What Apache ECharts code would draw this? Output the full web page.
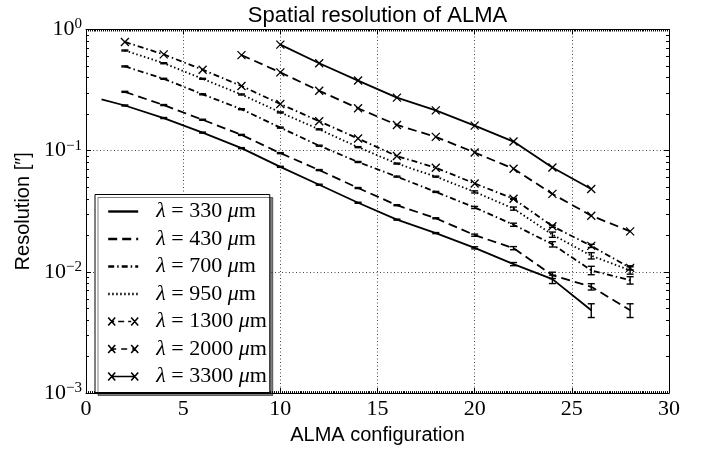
<!DOCTYPE html>
<html><head><meta charset="utf-8">
<script src="https://cdn.jsdelivr.net/npm/echarts@6/dist/echarts.min.js"></script>
<style>html,body{margin:0;padding:0;background:#fff}#c{width:706px;height:450px}</style>
</head><body><div id="c"></div>
<script>
// ---- data ----
const wavelengths = [330, 430, 700, 950, 1300, 2000, 3300];
const xTicks = [0, 5, 10, 15, 20, 25, 30];
const yTickExponents = [0, -1, -2, -3];

const configs330 = [0.8, 2, 4, 6, 8, 10, 12, 14, 16, 18, 20, 22, 24, 26];
const res330 = [0.265, 0.236, 0.186, 0.141, 0.105, 0.0736, 0.0524, 0.0372, 0.0270, 0.0209, 0.0158, 0.0116, 0.00871, 0.00483];
const err330 = [0, 1, 1, 1, 1, 1, 1, 1, 1, 1, 2, 3, 8, 13];

const configs430 = [2, 4, 6, 8, 10, 12, 14, 16, 18, 20, 22, 24, 26, 28];
const res430 = [0.306, 0.238, 0.180, 0.135, 0.0955, 0.0692, 0.0492, 0.0355, 0.0277, 0.0201, 0.0157, 0.00938, 0.00754, 0.00483];
const err430 = [1, 1, 1, 1, 1, 1, 1, 1, 1, 2, 3, 6, 6, 13];

const configs700 = [2, 4, 6, 8, 10, 12, 14, 16, 18, 20, 22, 24, 26, 28];
const res700 = [0.496, 0.392, 0.292, 0.220, 0.155, 0.110, 0.0807, 0.0611, 0.0457, 0.0340, 0.0245, 0.0169, 0.0103, 0.00853];
const err700 = [1, 1, 1, 1, 1, 1, 1, 1, 1, 2, 3, 5, 8, 7];

const configs950 = [2, 4, 6, 8, 10, 12, 14, 16, 18, 20, 22, 24, 26, 28];
const res950 = [0.671, 0.527, 0.392, 0.291, 0.207, 0.150, 0.107, 0.0783, 0.0611, 0.0457, 0.0333, 0.0203, 0.0136, 0.0103];
const err950 = [1, 1, 1, 1, 1, 1, 1, 1, 1, 2, 3, 5, 6, 7];

const configs1300 = [2, 4, 6, 8, 10, 12, 14, 16, 18, 20, 22, 24, 26, 28];
const res1300 = [0.789, 0.623, 0.466, 0.342, 0.243, 0.175, 0.126, 0.0903, 0.0723, 0.0537, 0.0401, 0.0238, 0.0164, 0.0108];
const err1300 = [0, 0, 0, 0, 0, 0, 0, 0, 0, 0, 1, 2, 3, 4];

const configs2000 = [8, 10, 12, 14, 16, 18, 20, 22, 24, 26, 28];
const res2000 = [0.615, 0.443, 0.312, 0.224, 0.163, 0.130, 0.0966, 0.0710, 0.0440, 0.0291, 0.0216];

const configs3300 = [10, 12, 14, 16, 18, 20, 22, 24, 26];
const res3300 = [0.750, 0.527, 0.379, 0.274, 0.215, 0.161, 0.119, 0.0727, 0.0483];

// ---- styles ----
const XMARK = 'path://M0,0L10,10M10,0L0,10';
const XLEG = 'M0,0L7,8M7,0L0,8M23,0L30,8M30,0L23,8';
const lineSpecs = [
  {x: configs330, y: res330, e: err330, dash: 'solid', marker: false},
  {x: configs430, y: res430, e: err430, dash: [9, 5], marker: false},
  {x: configs700, y: res700, e: err700, dash: [6, 3, 1.5, 3], marker: false},
  {x: configs950, y: res950, e: err950, dash: [1.5, 2.5], marker: false},
  {x: configs1300, y: res1300, e: err1300, dash: [6, 3, 1.5, 3], marker: true, leg: 'path://' + XLEG + 'M4,4L6,4M10,4L16,4M20,4L23,4'},
  {x: configs2000, y: res2000, e: null, dash: [9, 5], marker: true, leg: 'path://' + XLEG + 'M4,4L8,4M13,4L19,4M24,4L26,4'},
  {x: configs3300, y: res3300, e: null, dash: 'solid', marker: true, leg: 'path://' + XLEG + 'M4,4L26,4'}
];
const names = wavelengths.map(w => 'λ = ' + w + ' μm');

const series = [];
const legendData = [];
lineSpecs.forEach((s, i) => {
  series.push({
    name: names[i], type: 'line',
    data: s.x.map((x, j) => [x, s.y[j]]),
    showSymbol: s.marker, symbol: s.marker ? XMARK : 'none', symbolSize: 8,
    itemStyle: {color: '#000', borderColor: '#000', borderWidth: 1.3},
    lineStyle: {color: '#000', width: 1.8, type: s.dash},
    animation: false, z: 3
  });
  if (s.marker) {
    legendData.push({name: names[i], icon: s.leg,
      itemStyle: {color: 'rgba(0,0,0,0)', borderColor: '#000', borderWidth: 1.6}});
  } else {
    legendData.push({name: names[i], itemStyle: {opacity: 0},
      lineStyle: {width: 2.4, type: s.dash, color: '#000'}});
  }
  if (s.e) {
    series.push({
      name: '_err' + i, type: 'custom',
      data: s.x.map((x, j) => [x, s.y[j] * (1 - s.e[j] / 100), s.y[j] * (1 + s.e[j] / 100), s.e[j]]).filter(d => d[3] > 0),
      encode: {x: 0, y: [1, 2]},
      renderItem: function (params, api) {
        const x = api.value(0);
        const p1 = api.coord([x, api.value(1)]);
        const p2 = api.coord([x, api.value(2)]);
        const w = 3.5;
        const st = {stroke: '#000', lineWidth: 1.4};
        return {type: 'group', children: [
          {type: 'line', shape: {x1: p1[0], y1: p1[1], x2: p2[0], y2: p2[1]}, style: st},
          {type: 'line', shape: {x1: p1[0] - w, y1: p1[1], x2: p1[0] + w, y2: p1[1]}, style: st},
          {type: 'line', shape: {x1: p2[0] - w, y1: p2[1], x2: p2[0] + w, y2: p2[1]}, style: st}
        ]};
      },
      animation: false, z: 4
    });
  }
});

const serif = 'Liberation Serif';
const sans = 'Liberation Sans';
const tickStyle = {show: true, inside: true, length: 5, lineStyle: {color: '#000', width: 1}};
const gridLine = {show: true, lineStyle: {color: '#444', width: 1, type: [1, 2.5]}};

const chart = echarts.init(document.getElementById('c'), null, {renderer: 'canvas'});
chart.setOption({
  backgroundColor: '#fff',
  animation: false,
  title: {
    text: 'Spatial resolution of ALMA', left: 377.5, textAlign: 'center', top: 5, padding: 0,
    textStyle: {fontFamily: sans, fontSize: 22, fontWeight: 'normal', color: '#000', lineHeight: 22}
  },
  grid: {left: 86, right: 37, top: 29.5, bottom: 48.3, containLabel: false},
  legend: {
    data: legendData, orient: 'vertical', left: 95, top: 194.5,
    selectedMode: false,
    itemWidth: 30, itemHeight: 8, itemGap: 5.5,
    padding: [6, 3, 5, 12],
    backgroundColor: '#fff', borderColor: '#000', borderWidth: 1, borderRadius: 0,
    shadowColor: 'rgba(0,0,0,0.5)', shadowBlur: 0, shadowOffsetX: 3, shadowOffsetY: 3,
    formatter: function (name) {
      const w = name.match(/\d+/)[0];
      return '{i|λ}{r| = ' + w + ' }{i|μ}{r|m}';
    },
    textStyle: {
      color: '#000', fontFamily: serif, fontSize: 22, padding: [0, 0, 0, 13],
      rich: {
        i: {fontFamily: serif, fontStyle: 'italic', fontSize: 22, lineHeight: 22},
        r: {fontFamily: serif, fontSize: 22, lineHeight: 22}
      }
    }
  },
  xAxis: [{
    type: 'value', min: xTicks[0], max: xTicks[xTicks.length - 1], interval: 5,
    name: 'ALMA configuration', nameLocation: 'middle', nameGap: 23,
    nameTextStyle: {fontFamily: sans, fontSize: 20, color: '#000'},
    axisLine: {show: true, onZero: false, lineStyle: {color: '#000', width: 1}},
    axisTick: tickStyle,
    minorTick: {show: true, splitNumber: 50, length: 2, lineStyle: {color: '#000', width: 1}},
    axisLabel: {show: true, margin: 5, fontFamily: serif, fontSize: 22, color: '#000'},
    splitLine: gridLine
  }, {
    type: 'value', position: 'top', min: xTicks[0], max: xTicks[xTicks.length - 1], interval: 5,
    axisLine: {show: true, onZero: false, lineStyle: {color: '#000', width: 1}},
    axisTick: tickStyle,
    minorTick: {show: true, splitNumber: 50, length: 2, lineStyle: {color: '#000', width: 1}},
    axisLabel: {show: false}, splitLine: {show: false}
  }],
  yAxis: [{
    type: 'log', logBase: 10, min: Math.pow(10, yTickExponents[3]), max: Math.pow(10, yTickExponents[0]),
    name: 'Resolution [″]', nameLocation: 'middle', nameGap: 52, nameRotate: 90,
    nameTextStyle: {fontFamily: sans, fontSize: 20, color: '#000'},
    axisLine: {show: true, onZero: false, lineStyle: {color: '#000', width: 1}},
    axisTick: tickStyle,
    minorTick: {show: true, splitNumber: 9, length: 3, lineStyle: {color: '#000', width: 1}},
    axisLabel: {
      show: true, margin: 4, color: '#000',
      formatter: function (v) {
        const e = Math.round(Math.log10(v));
        return '{b|10}{s|' + (e < 0 ? '−' + (-e) : e) + '}';
      },
      rich: {
        b: {fontFamily: serif, fontSize: 22, color: '#000'},
        s: {fontFamily: serif, fontSize: 15, color: '#000', padding: [0, 0, 10, 0]}
      }
    },
    splitLine: gridLine
  }, {
    type: 'log', logBase: 10, position: 'right', min: Math.pow(10, yTickExponents[3]), max: Math.pow(10, yTickExponents[0]),
    axisLine: {show: true, onZero: false, lineStyle: {color: '#000', width: 1}},
    axisTick: tickStyle,
    minorTick: {show: true, splitNumber: 9, length: 3, lineStyle: {color: '#000', width: 1}},
    axisLabel: {show: false}, splitLine: {show: false}
  }],
  series: series
});
</script>
</body></html>
